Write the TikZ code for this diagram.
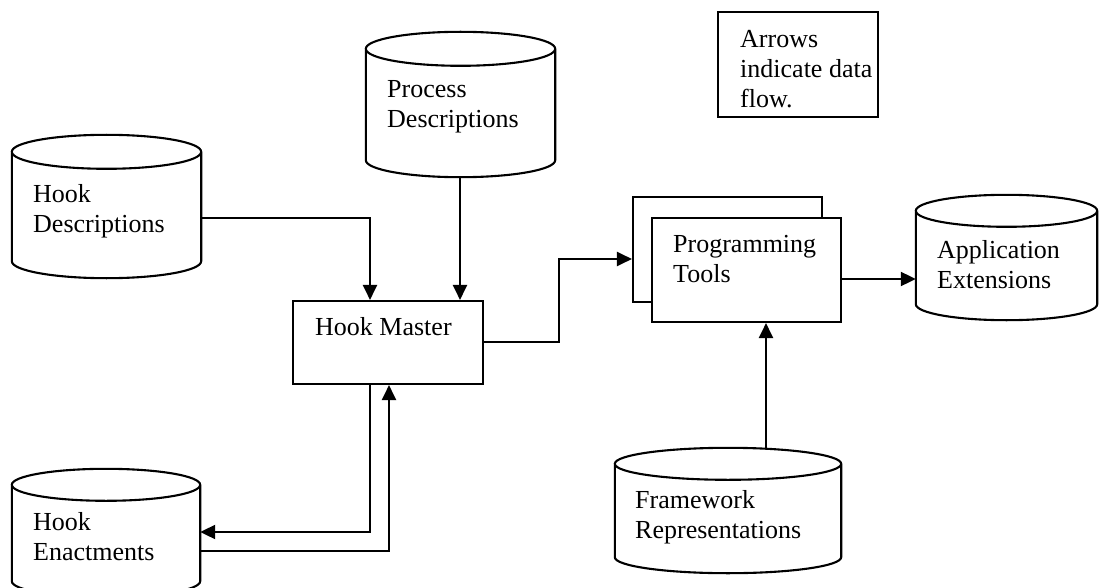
\documentclass[tikz,border=0pt]{standalone}
\usepackage{fontspec}
\setmainfont{Liberation Serif}
\usetikzlibrary{arrows.meta,calc}
\tikzset{
  ln/.style={line width=2.1pt, line join=miter},
  arr/.style={ln, -{Triangle[length=15pt,width=14pt]}},
  area/.style={draw=none, inner sep=0pt},
  boxnode/.style={draw, line width=2.1pt, fill=white, inner sep=0pt},
  lbl/.style={inner sep=0pt, anchor=base west, align=left, font=\fontsize{26}{30}\selectfont},
}
\newcommand\drawcyl[2]{%
  \draw[ln] let \p1=(#1.north west), \p2=(#1.south east), \n1={(\x2-\x1)/2} in
    (\x1,\y1-#2) -- (\x1,\y2+#2)
    arc[start angle=180,end angle=360,x radius=\n1,y radius=#2]
    -- (\x2,\y1-#2)
    arc[start angle=0,end angle=180,x radius=\n1,y radius=#2]
    arc[start angle=180,end angle=360,x radius=\n1,y radius=#2];
}
\begin{document}
\begin{tikzpicture}[x=1pt,y=-1pt]
\useasboundingbox (0,0) rectangle (1099,588);
% cylinder areas
\node[area, minimum width=189pt, minimum height=143pt] (hd) at (106.5,206.5) {};
\node[area, minimum width=189pt, minimum height=145pt] (pd) at (460.5,104.5) {};
\node[area, minimum width=181pt, minimum height=125pt] (ae) at (1006.5,257.5) {};
\node[area, minimum width=226pt, minimum height=125pt] (fr) at (728,510.5) {};
\node[area, minimum width=188pt, minimum height=128pt] (he) at (106,533) {};
\drawcyl{hd}{17pt}
\drawcyl{pd}{17pt}
\drawcyl{ae}{16pt}
\drawcyl{fr}{16pt}
\drawcyl{he}{16pt}
% boxes
\node[boxnode, minimum width=190pt, minimum height=83pt] (hm) at (388,342.5) {};
\node[boxnode, minimum width=189pt, minimum height=105pt] (ptb) at (727.5,249.5) {};
\node[boxnode, minimum width=189pt, minimum height=104pt] (pt) at (746.5,270) {};
\node[boxnode, minimum width=160pt, minimum height=105pt] (legend) at (798,64.5) {};
% labels (anchor = baseline of last line)
\node[lbl] (hdt) at (33,232) {Hook\\Descriptions};
\node[lbl] (pdt) at (387,128) {Process\\Descriptions};
\node[lbl] (hmt) at (315,335) {Hook Master};
\node[lbl] (ptt) at (673,282) {Programming\\Tools};
\node[lbl] (aet) at (937,288) {Application\\Extensions};
\node[lbl] (frt) at (635,538) {Framework\\Representations};
\node[lbl] (het) at (33,560) {Hook\\Enactments};
\node[lbl] (lgt) at (740,108) {Arrows\\indicate data\\flow.};
% connectors
\draw[arr] ([yshift=-11.5pt]hd.east) -| ([xshift=-18pt]hm.north);
\draw[arr] ([xshift=-0.5pt]pd.south) -- ([xshift=-0.5pt]pd.south |- hm.north);
\draw[arr] ([yshift=0.5pt]hm.east) -- ++(75,0) |- ([yshift=-9.5pt]ptb.west);
\draw[arr] ([yshift=-9pt]pt.east) -- ([yshift=-9pt]pt.east -| ae.west);
\draw[arr] ([xshift=19.5pt]pt.south |- fr.north) -- ([xshift=19.5pt]pt.south);
\draw[arr] ([xshift=-18pt]hm.south) |- ([yshift=1pt]he.east);
\draw[arr] ([yshift=-18pt]he.east) -| ([xshift=1pt]hm.south);
\end{tikzpicture}
\end{document}
